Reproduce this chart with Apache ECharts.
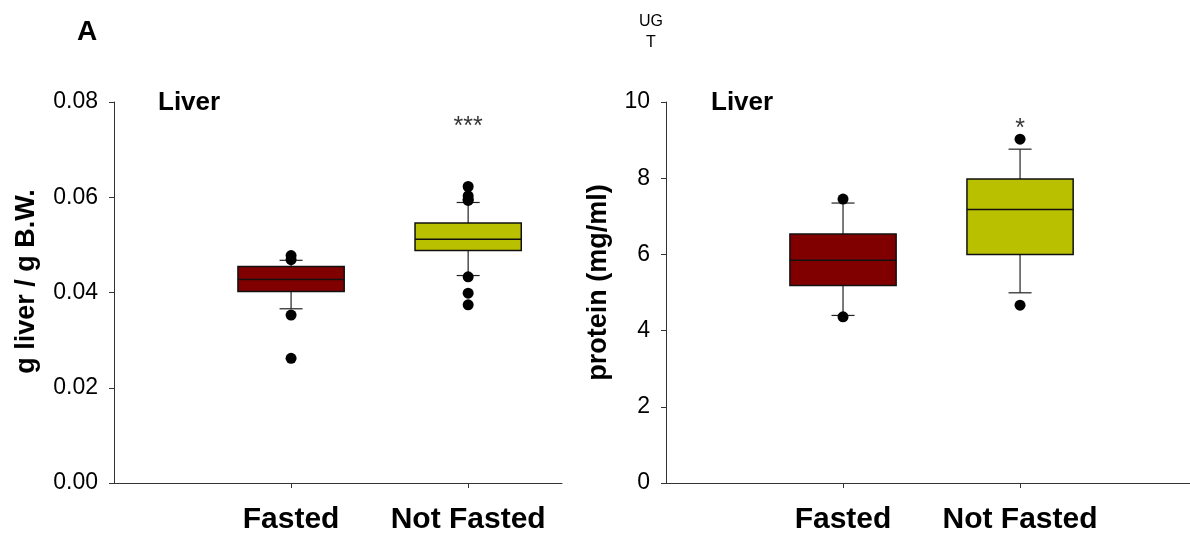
<!DOCTYPE html>
<html><head><meta charset="utf-8">
<script src="https://cdn.jsdelivr.net/npm/echarts@6/dist/echarts.min.js"></script>
<style>html,body{margin:0;padding:0;background:#fff}#c{width:1190px;height:535px}</style>
</head><body><div id="c"></div>
<script>
const categories = ['Fasted', 'Not Fasted'];
const boxColors = ['#800000', '#b9c000'];
// [min whisker, Q1, median, Q3, max whisker]
const liverWeightStats = [
  [0.03658, 0.04021, 0.04272, 0.04545, 0.04676],
  [0.04356, 0.04880, 0.05116, 0.05460, 0.05890]
];
const liverWeightOutliers = [
  [0.04775, 0.04690, 0.03525, 0.02618],
  [0.06226, 0.06031, 0.05960, 0.05933, 0.04329, 0.03985, 0.03742]
];
const proteinStats = [
  [4.398, 5.183, 5.846, 6.537, 7.348],
  [4.992, 5.995, 7.181, 7.976, 8.762]
];
const proteinOutliers = [
  [7.453, 4.363],
  [9.023, 4.668]
];
const leftTicks = [0, 0.02, 0.04, 0.06, 0.08];
const rightTicks = [0, 2, 4, 6, 8, 10];
const leftSig = ['', '***'];
const rightSig = ['', '*'];
const leftSigY = 0.0747;
const rightSigY = 9.28;

const FONT = 'Liberation Sans, Arial, sans-serif';
const BOX_W = 0.6, CAP_W = 0.13;

function boxData(stats) {
  return stats.map((s, i) => ({ value: [i + 1, ...s], itemStyle: { color: boxColors[i] } }));
}
function outlierData(out) {
  const d = [];
  out.forEach((arr, i) => arr.forEach(v => d.push([i + 1, v])));
  return d;
}
function sigData(sig, y) {
  return sig.map((s, i) => ({ value: [i + 1, y], label: { formatter: s } })).filter((d, i) => sig[i]);
}
function renderBox(params, api) {
  const x = api.value(0);
  const lo = api.coord([x, api.value(1)]);
  const q1 = api.coord([x, api.value(2)]);
  const md = api.coord([x, api.value(3)]);
  const q3 = api.coord([x, api.value(4)]);
  const hi = api.coord([x, api.value(5)]);
  const hw = api.size([BOX_W, 0])[0] / 2;
  const cw = api.size([CAP_W, 0])[0] / 2;
  const color = api.visual('color');
  const line = { stroke: '#222', lineWidth: 1.2 };
  return {
    type: 'group',
    children: [
      { type: 'line', shape: { x1: hi[0], y1: hi[1], x2: q3[0], y2: q3[1] }, style: line },
      { type: 'line', shape: { x1: lo[0], y1: lo[1], x2: q1[0], y2: q1[1] }, style: line },
      { type: 'line', shape: { x1: hi[0] - cw, y1: hi[1], x2: hi[0] + cw, y2: hi[1] }, style: line },
      { type: 'line', shape: { x1: lo[0] - cw, y1: lo[1], x2: lo[0] + cw, y2: lo[1] }, style: line },
      { type: 'rect', shape: { x: q3[0] - hw, y: q3[1], width: hw * 2, height: q1[1] - q3[1] },
        style: { fill: color, stroke: '#111', lineWidth: 1.5 } },
      { type: 'line', shape: { x1: md[0] - hw, y1: md[1], x2: md[0] + hw, y2: md[1] },
        style: { stroke: '#111', lineWidth: 1.5 } }
    ]
  };
}
function xAxis(gi, max) {
  return {
    gridIndex: gi, type: 'value', min: 0, max: max,
    axisLine: { show: true, lineStyle: { color: '#333', width: 1 } },
    axisTick: { show: true, length: 5, customValues: [1, 2], lineStyle: { color: '#333' } },
    axisLabel: { customValues: [1, 2], margin: 22, formatter: v => categories[Math.round(v) - 1] || '',
      fontFamily: FONT, fontWeight: 'bold', fontSize: 30, color: '#000' },
    splitLine: { show: false }
  };
}
function yAxis(gi, max, interval, name, ticks, dec, gap, pad) {
  return {
    gridIndex: gi, type: 'value', min: 0, max: max, interval: interval,
    name: name, nameLocation: 'middle', nameGap: gap,
    nameTextStyle: { fontFamily: FONT, fontWeight: 'bold', fontSize: 27, color: '#000', padding: [0, 0, 0, pad] },
    axisLine: { show: true, lineStyle: { color: '#333', width: 1 } },
    axisTick: { show: true, length: 5, lineStyle: { color: '#333' } },
    axisLabel: { margin: 16, fontFamily: FONT, fontSize: 23, color: '#000',
      formatter: v => { const t = ticks.find(k => Math.abs(k - v) < 1e-9); return t === undefined ? '' : t.toFixed(dec); } },
    splitLine: { show: false }
  };
}

const chart = echarts.init(document.getElementById('c'), null, { renderer: 'canvas' });
chart.setOption({
  backgroundColor: '#fff',
  animation: false,
  title: [
    { text: 'A', left: 72, top: 13, textStyle: { fontFamily: FONT, fontWeight: 'bold', fontSize: 28, color: '#000' } },
    { text: 'UG\nT', left: 646, top: 6, textAlign: 'center',
      textStyle: { fontFamily: FONT, fontWeight: 'normal', fontSize: 16, lineHeight: 21, color: '#000', align: 'center' } },
    { text: 'Liver', left: 153, top: 85, textStyle: { fontFamily: FONT, fontWeight: 'bold', fontSize: 26, color: '#000' } },
    { text: 'Liver', left: 706, top: 85, textStyle: { fontFamily: FONT, fontWeight: 'bold', fontSize: 26, color: '#000' } }
  ],
  grid: [
    { left: 114, top: 102, width: 448, height: 382 },
    { left: 666, top: 102, width: 524, height: 382 }
  ],
  xAxis: [xAxis(0, 2.53), xAxis(1, 2.96)],
  yAxis: [
    yAxis(0, 0.08, 0.02, 'g liver / g B.W.', leftTicks, 2, 74, 22),
    yAxis(1, 10, 2, 'protein (mg/ml)', rightTicks, 0, 54, 20)
  ],
  series: [
    { type: 'custom', xAxisIndex: 0, yAxisIndex: 0, renderItem: renderBox, data: boxData(liverWeightStats), z: 2 },
    { type: 'custom', xAxisIndex: 1, yAxisIndex: 1, renderItem: renderBox, data: boxData(proteinStats), z: 2 },
    { type: 'scatter', xAxisIndex: 0, yAxisIndex: 0, symbol: 'circle', symbolSize: 11,
      itemStyle: { color: '#000', opacity: 1 }, data: outlierData(liverWeightOutliers), z: 3 },
    { type: 'scatter', xAxisIndex: 1, yAxisIndex: 1, symbol: 'circle', symbolSize: 11,
      itemStyle: { color: '#000', opacity: 1 }, data: outlierData(proteinOutliers), z: 3 },
    { type: 'scatter', xAxisIndex: 0, yAxisIndex: 0, symbolSize: 0, data: sigData(leftSig, leftSigY),
      label: { show: true, position: 'inside', fontFamily: FONT, fontSize: 25, color: '#000' } },
    { type: 'scatter', xAxisIndex: 1, yAxisIndex: 1, symbolSize: 0, data: sigData(rightSig, rightSigY),
      label: { show: true, position: 'inside', fontFamily: FONT, fontSize: 25, color: '#000' } }
  ]
});
</script></body></html>
